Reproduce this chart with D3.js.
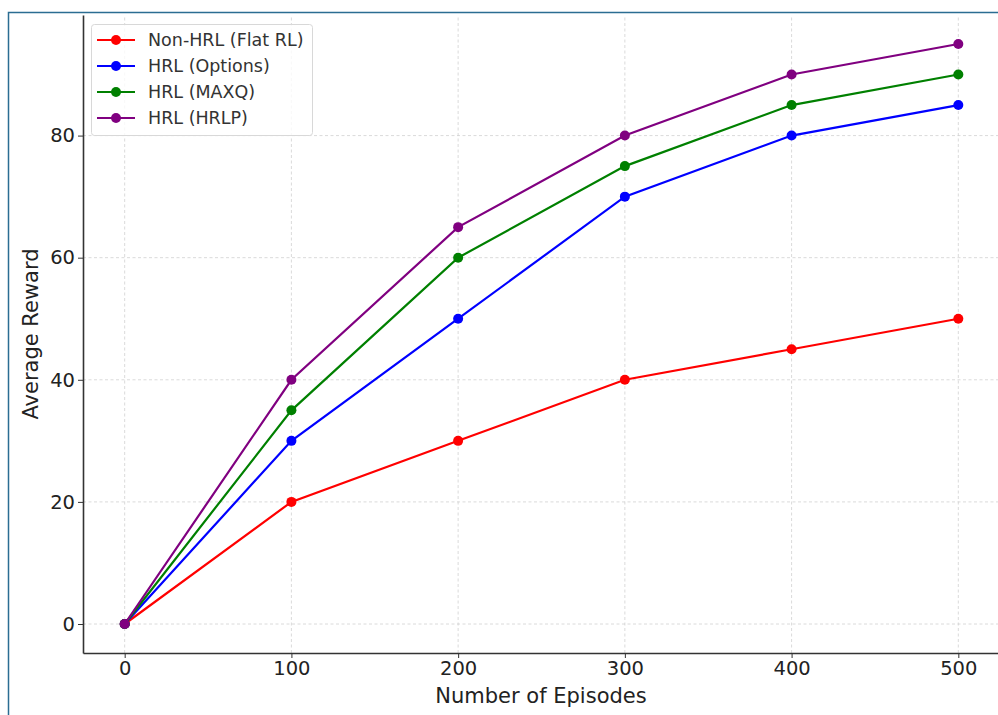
<!DOCTYPE html>
<html>
<head>
<meta charset="utf-8">
<script src="https://cdn.jsdelivr.net/npm/d3@7"></script>
<style>
  body { margin: 0; background: #fff; overflow: hidden; }
  svg { display: block; font-family: "DejaVu Sans", sans-serif; }
</style>
</head>
<body>
<script>
// chart data
const episodes = [0, 100, 200, 300, 400, 500];
const seriesNames = ["Non-HRL (Flat RL)", "HRL (Options)", "HRL (MAXQ)", "HRL (HRLP)"];
const seriesColors = ["#ff0000", "#0000ff", "#008000", "#800080"];
const flatRL = [0, 20, 30, 40, 45, 50];
const options = [0, 30, 50, 70, 80, 85];
const maxq = [0, 35, 60, 75, 85, 90];
const hrlp = [0, 40, 65, 80, 90, 95];
const xTicks = [0, 100, 200, 300, 400, 500];
const yTicks = [0, 20, 40, 60, 80];

const allSeries = [flatRL, options, maxq, hrlp];

const width = 998, height = 715;
const margin = {top: 15, right: -2, bottom: 62, left: 83};

const svg = d3.select('body').append('svg')
  .attr('width', width)
  .attr('height', height);

// outer frame
svg.append('rect')
  .attr('x', 8.5).attr('y', 12.5)
  .attr('width', 1100).attr('height', 1100)
  .attr('fill', 'none')
  .attr('stroke', '#2b6d92')
  .attr('stroke-width', 1.5);

const xScale = d3.scaleLinear()
  .domain([-25, 525])
  .range([margin.left, width - margin.right]);

const yScale = d3.scaleLinear()
  .domain([-4.75, 99.75])
  .range([height - margin.bottom, margin.top]);

// grid
svg.append('g').selectAll('line')
  .data(xTicks).enter().append('line')
  .attr('x1', d => xScale(d)).attr('x2', d => xScale(d))
  .attr('y1', yScale(-4.75)).attr('y2', yScale(99.75))
  .attr('stroke', '#d0d0d0').attr('stroke-width', 0.8)
  .attr('stroke-dasharray', '3,2.5');

svg.append('g').selectAll('line')
  .data(yTicks).enter().append('line')
  .attr('x1', xScale(-25)).attr('x2', xScale(525))
  .attr('y1', d => yScale(d)).attr('y2', d => yScale(d))
  .attr('stroke', '#d0d0d0').attr('stroke-width', 0.8)
  .attr('stroke-dasharray', '3,2.5');

// axes
const xAxis = d3.axisBottom(xScale).tickValues(xTicks).tickSize(5).tickSizeOuter(0).tickPadding(3);
const yAxis = d3.axisLeft(yScale).tickValues(yTicks).tickSize(5).tickSizeOuter(0).tickPadding(3);

const xAxisGroup = svg.append('g')
  .attr('transform', `translate(0, ${yScale(-4.75)})`)
  .call(xAxis);
const yAxisGroup = svg.append('g')
  .attr('transform', `translate(${xScale(-25)}, 0)`)
  .call(yAxis);

[xAxisGroup, yAxisGroup].forEach(g => {
  g.select('.domain').attr('stroke', '#333').attr('stroke-width', 1.6);
  g.selectAll('.tick line').attr('stroke', '#333').attr('stroke-width', 1);
  g.selectAll('.tick text')
    .attr('fill', '#222')
    .style('font-size', '19.5px')
    .style('font-family', '"DejaVu Sans", sans-serif');
});

// axis labels
svg.append('text')
  .attr('x', 541).attr('y', 703)
  .attr('text-anchor', 'middle')
  .attr('fill', '#222')
  .style('font-size', '21px')
  .text('Number of Episodes');

svg.append('text')
  .attr('transform', `translate(38, ${(yScale(-4.75) + yScale(99.75)) / 2}) rotate(-90)`)
  .attr('text-anchor', 'middle')
  .attr('fill', '#222')
  .style('font-size', '21px')
  .text('Average Reward');

// lines and markers
const line = d3.line()
  .x((d, i) => xScale(episodes[i]))
  .y(d => yScale(d));

allSeries.forEach((vals, s) => {
  svg.append('path')
    .datum(vals)
    .attr('d', line)
    .attr('fill', 'none')
    .attr('stroke', seriesColors[s])
    .attr('stroke-width', 2.2);
  svg.append('g').selectAll('circle')
    .data(vals).enter().append('circle')
    .attr('cx', (d, i) => xScale(episodes[i]))
    .attr('cy', d => yScale(d))
    .attr('r', 5)
    .attr('fill', seriesColors[s]);
});

// legend
const legend = svg.append('g');
legend.append('rect')
  .attr('x', 91.5).attr('y', 24.5)
  .attr('width', 221).attr('height', 111)
  .attr('rx', 3)
  .attr('fill', 'rgba(255,255,255,0.8)')
  .attr('stroke', '#d8d8d8');

seriesNames.forEach((name, s) => {
  const y = 40 + s * 26;
  legend.append('line')
    .attr('x1', 97).attr('x2', 135)
    .attr('y1', y).attr('y2', y)
    .attr('stroke', seriesColors[s]).attr('stroke-width', 2.2);
  legend.append('circle')
    .attr('cx', 116).attr('cy', y).attr('r', 5)
    .attr('fill', seriesColors[s]);
  legend.append('text')
    .attr('x', 148).attr('y', y)
    .attr('dy', '0.35em')
    .attr('fill', '#333')
    .style('font-size', '17.5px')
    .text(name);
});
</script>
</body>
</html>
